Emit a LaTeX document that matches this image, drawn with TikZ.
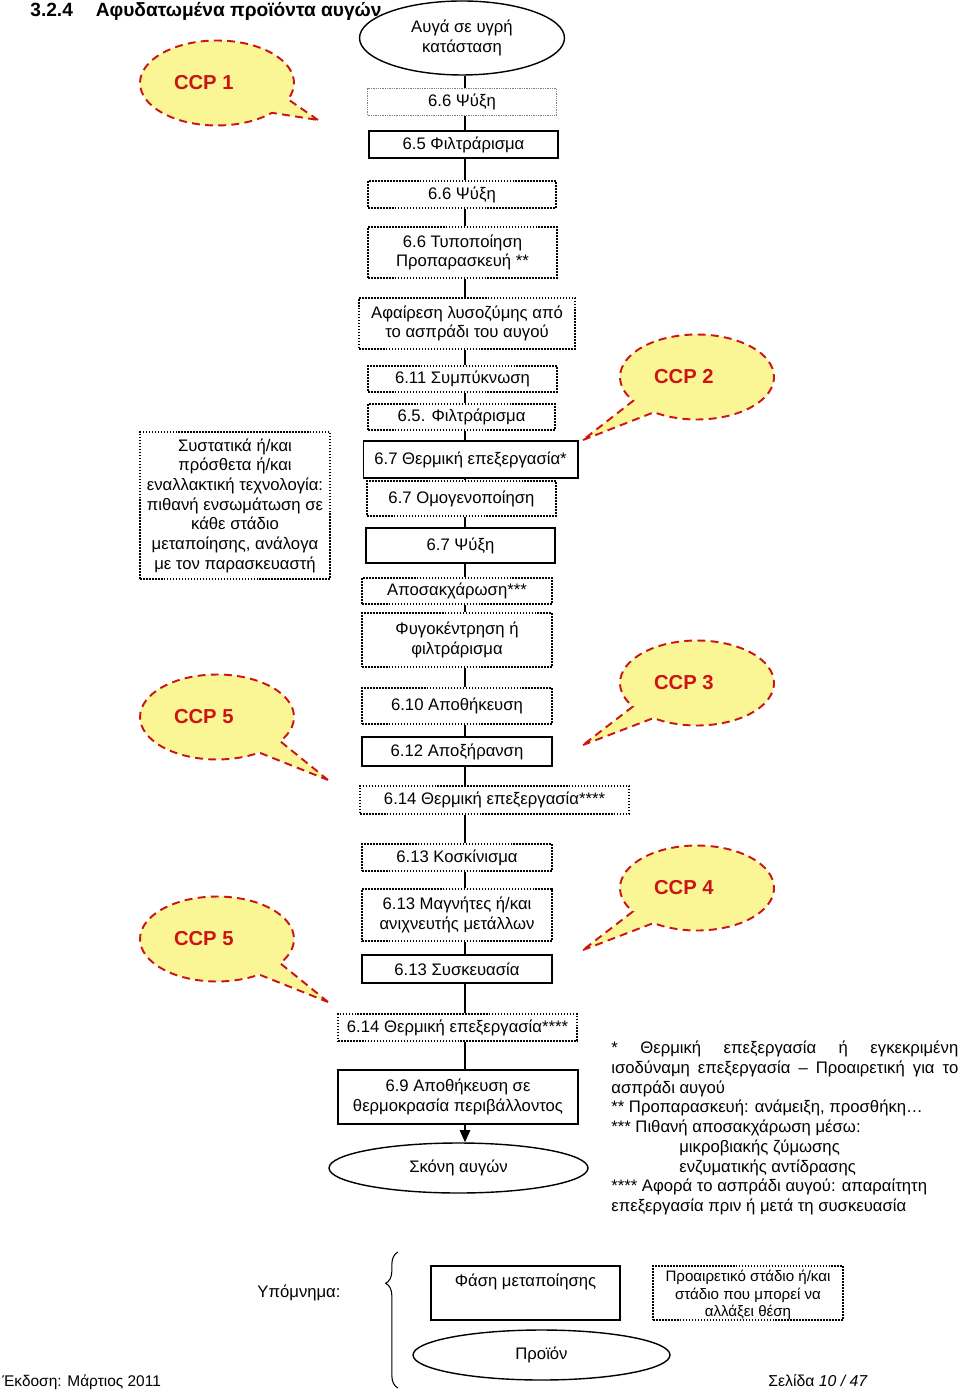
\documentclass[tikz,border=0pt]{standalone}
\usepackage{fontspec}
\setmainfont{Liberation Sans}
\usetikzlibrary{shapes.geometric,shapes.callouts,arrows.meta,decorations.pathreplacing}

\definecolor{ccpfill}{RGB}{250,246,150}
\definecolor{ccpred}{RGB}{204,20,20}

\newcommand\boxfont{\fontsize{9.5}{11.2}\selectfont}

\tikzset{
  stage/.style={draw, line width=0.6pt, align=center, font=\boxfont, inner sep=1pt},
  mainstage/.style={stage, line width=1.3pt},
  optstage/.style={stage, line width=0.9pt, dash pattern=on 0.9pt off 0.8pt},
  product/.style={draw, ellipse, line width=0.8pt, align=center, font=\boxfont, inner sep=0pt},
  ccp/.style={ellipse callout, draw=ccpred, fill=ccpfill, line width=1.1pt,
    dash pattern=on 4.5pt off 3pt, text=ccpred, font=\fontsize{11.5}{13}\selectfont\bfseries,
    minimum width=3.08cm, minimum height=1.7cm, callout pointer arc=22}
}

\begin{document}
\begin{tikzpicture}[x=0.02cm, y=-0.02cm]
\useasboundingbox (0,0) rectangle (960,1391);

\node[anchor=base west, font=\fontsize{10.9}{12}\selectfont\bfseries, inner sep=0] (title) at (30,17)
  {3.2.4\hspace{13pt}Αφυδατωμένα προϊόντα αυγών};

% main line
\node[product, minimum width=4.1cm, minimum height=1.48cm] (egg) at (462,38) {Αυγά σε υγρή\\κατάσταση};
\node[optstage, draw=gray, line width=0.6pt, dash pattern=on 0.5pt off 0.5pt,
  minimum width=3.78cm, minimum height=0.54cm] (chillA) at (462,102) {6.6 Ψύξη};
\node[mainstage, minimum width=3.78cm, minimum height=0.54cm] (filterA) at (463.5,144.5) {6.5 Φιλτράρισμα};
\node[optstage, minimum width=3.76cm, minimum height=0.54cm] (chillB) at (462,194.5) {6.6 Ψύξη};
\node[optstage, minimum width=3.78cm, minimum height=1.02cm] (std) at (462.5,252.5) {6.6 Τυποποίηση\\Προπαρασκευή **};
\node[optstage, minimum width=4.32cm, minimum height=1.02cm] (lyso) at (467,323.5) {Αφαίρεση λυσοζύμης από\\το ασπράδι του αυγού};
\node[optstage, minimum width=3.78cm, minimum height=0.52cm] (conc) at (462.5,379) {6.11 Συμπύκνωση};
\node[optstage, minimum width=3.74cm, minimum height=0.52cm] (filterB) at (461.5,417) {6.5. Φιλτράρισμα};
\node[stage, minimum width=4.3cm, minimum height=0.74cm] (heatA) at (470.5,459.5) {6.7 Θερμική επεξεργασία*};
\node[optstage, minimum width=3.78cm, minimum height=0.7cm] (homog) at (461.5,498.5) {6.7 Ομογενοποίηση};
\node[stage, minimum width=3.78cm, minimum height=0.7cm] (chillC) at (460.5,545.5) {6.7 Ψύξη};
\node[optstage, minimum width=3.8cm, minimum height=0.52cm] (desug) at (457,591) {Αποσακχάρωση***};
\node[optstage, minimum width=3.8cm, minimum height=1.08cm] (centr) at (457,640) {Φυγοκέντρηση ή\\φιλτράρισμα};
\node[optstage, minimum width=3.8cm, minimum height=0.72cm] (store) at (457,706) {6.10 Αποθήκευση};
\node[mainstage, minimum width=3.8cm, minimum height=0.58cm] (dry) at (457,751.5) {6.12 Αποξήρανση};
\node[optstage, minimum width=5.38cm, minimum height=0.56cm] (heatB) at (494.5,800) {6.14 Θερμική επεξεργασία****};
\node[optstage, minimum width=3.8cm, minimum height=0.54cm] (sieve) at (457,857.5) {6.13 Κοσκίνισμα};
\node[optstage, minimum width=3.8cm, minimum height=1.04cm] (magnet) at (457,915) {6.13 Μαγνήτες ή/και\\ανιχνευτής μετάλλων};
\node[mainstage, minimum width=3.8cm, minimum height=0.56cm] (pack) at (457,969) {6.13 Συσκευασία};
\node[optstage, minimum width=4.78cm, minimum height=0.54cm] (heatC) at (457.5,1027.5) {6.14 Θερμική επεξεργασία****};
\node[mainstage, minimum width=4.8cm, minimum height=1.08cm] (ambient) at (458,1097) {6.9 Αποθήκευση σε\\θερμοκρασία περιβάλλοντος};
\node[product, minimum width=5.18cm, minimum height=1cm] (powder) at (458.5,1168) {Σκόνη αυγών};

\node[optstage, minimum width=3.8cm, minimum height=2.94cm] (extra) at (235,505.5)
  {Συστατικά ή/και\\πρόσθετα ή/και\\εναλλακτική τεχνολογία:\\πιθανή ενσωμάτωση σε\\κάθε στάδιο\\μεταποίησης, ανάλογα\\με τον παρασκευαστή};

\coordinate (spine) at (465,0);
\foreach \a/\b in {egg/chillA, chillA/filterA, filterA/chillB, chillB/std, std/lyso,
  lyso/conc, conc/filterB, filterB/heatA, heatA/homog, homog/chillC, chillC/desug,
  desug/centr, centr/store, store/dry, dry/heatB, heatB/sieve, sieve/magnet,
  magnet/pack, pack/heatC, heatC/ambient}
  \draw[line width=0.8pt] (\a.south -| spine) -- (\b.north -| spine);
\draw[line width=0.8pt, -{Triangle[length=7pt,width=6pt]}] (ambient.south -| spine) -- (powder.north -| spine);

% critical control points
\node[ccp, callout absolute pointer={(318,120)}] (ccp1) at (217,83) {CCP 1\kern15pt};
\node[ccp, callout absolute pointer={(583,440)}] (ccp2) at (697,377) {CCP 2\kern15pt};
\node[ccp, callout absolute pointer={(583,745)}] (ccp3) at (697,683) {CCP 3\kern15pt};
\node[ccp, callout absolute pointer={(583,950)}] (ccp4) at (697,888) {CCP 4\kern15pt};
\node[ccp, callout absolute pointer={(328,780)}] (ccp5a) at (217,717) {CCP 5\kern15pt};
\node[ccp, callout absolute pointer={(328,1002)}] (ccp5b) at (217,939) {CCP 5\kern15pt};

% notes
\node[anchor=north west, text width=6.94cm, align=justify, font=\boxfont, inner sep=0] (notes) at (611,1041)
  {* Θερμική επεξεργασία ή εγκεκριμένη\linebreak
   ισοδύναμη επεξεργασία – Προαιρετική για το\linebreak
   ασπράδι αυγού\\{}
   ** Προπαρασκευή: ανάμειξη, προσθήκη…\\{}
   *** Πιθανή αποσακχάρωση μέσω:\\{}
   \hspace*{1.36cm}μικροβιακής ζύμωσης\\{}
   \hspace*{1.36cm}ενζυματικής αντίδρασης\\{}
   **** Αφορά το ασπράδι αυγού: απαραίτητη\\{}
   επεξεργασία πριν ή μετά τη συσκευασία};

% legend
\node[font=\boxfont] (legend) at (299,1293) {Υπόμνημα:};
\draw[decorate, decoration={brace, amplitude=7pt, aspect=0.77}, line width=0.6pt] (398,1388) -- (398,1252);
\node[mainstage, minimum width=3.78cm, minimum height=1.08cm] (phase) at (525.5,1293) {Φάση μεταποίησης\\ \strut};
\node[optstage, font=\fontsize{8.6}{9.9}\selectfont, inner ysep=0pt, minimum width=3.8cm, minimum height=1.08cm] (optional) at (748,1293)
  {\rule{0pt}{9pt}Προαιρετικό στάδιο ή/και\\στάδιο που μπορεί να\\αλλάξει θέση};
\node[product, minimum width=5.14cm, minimum height=1cm] (prod) at (541.5,1355) {Προϊόν};

% footer
\node[anchor=base west, font=\fontsize{8.8}{11}\selectfont, inner sep=0] (edition) at (2,1386) {Έκδοση: Μάρτιος 2011};
\node[anchor=base west, font=\fontsize{9}{11}\selectfont, inner sep=0] (page) at (768,1386) {Σελίδα \textit{10 / 47}};
\end{tikzpicture}
\end{document}
